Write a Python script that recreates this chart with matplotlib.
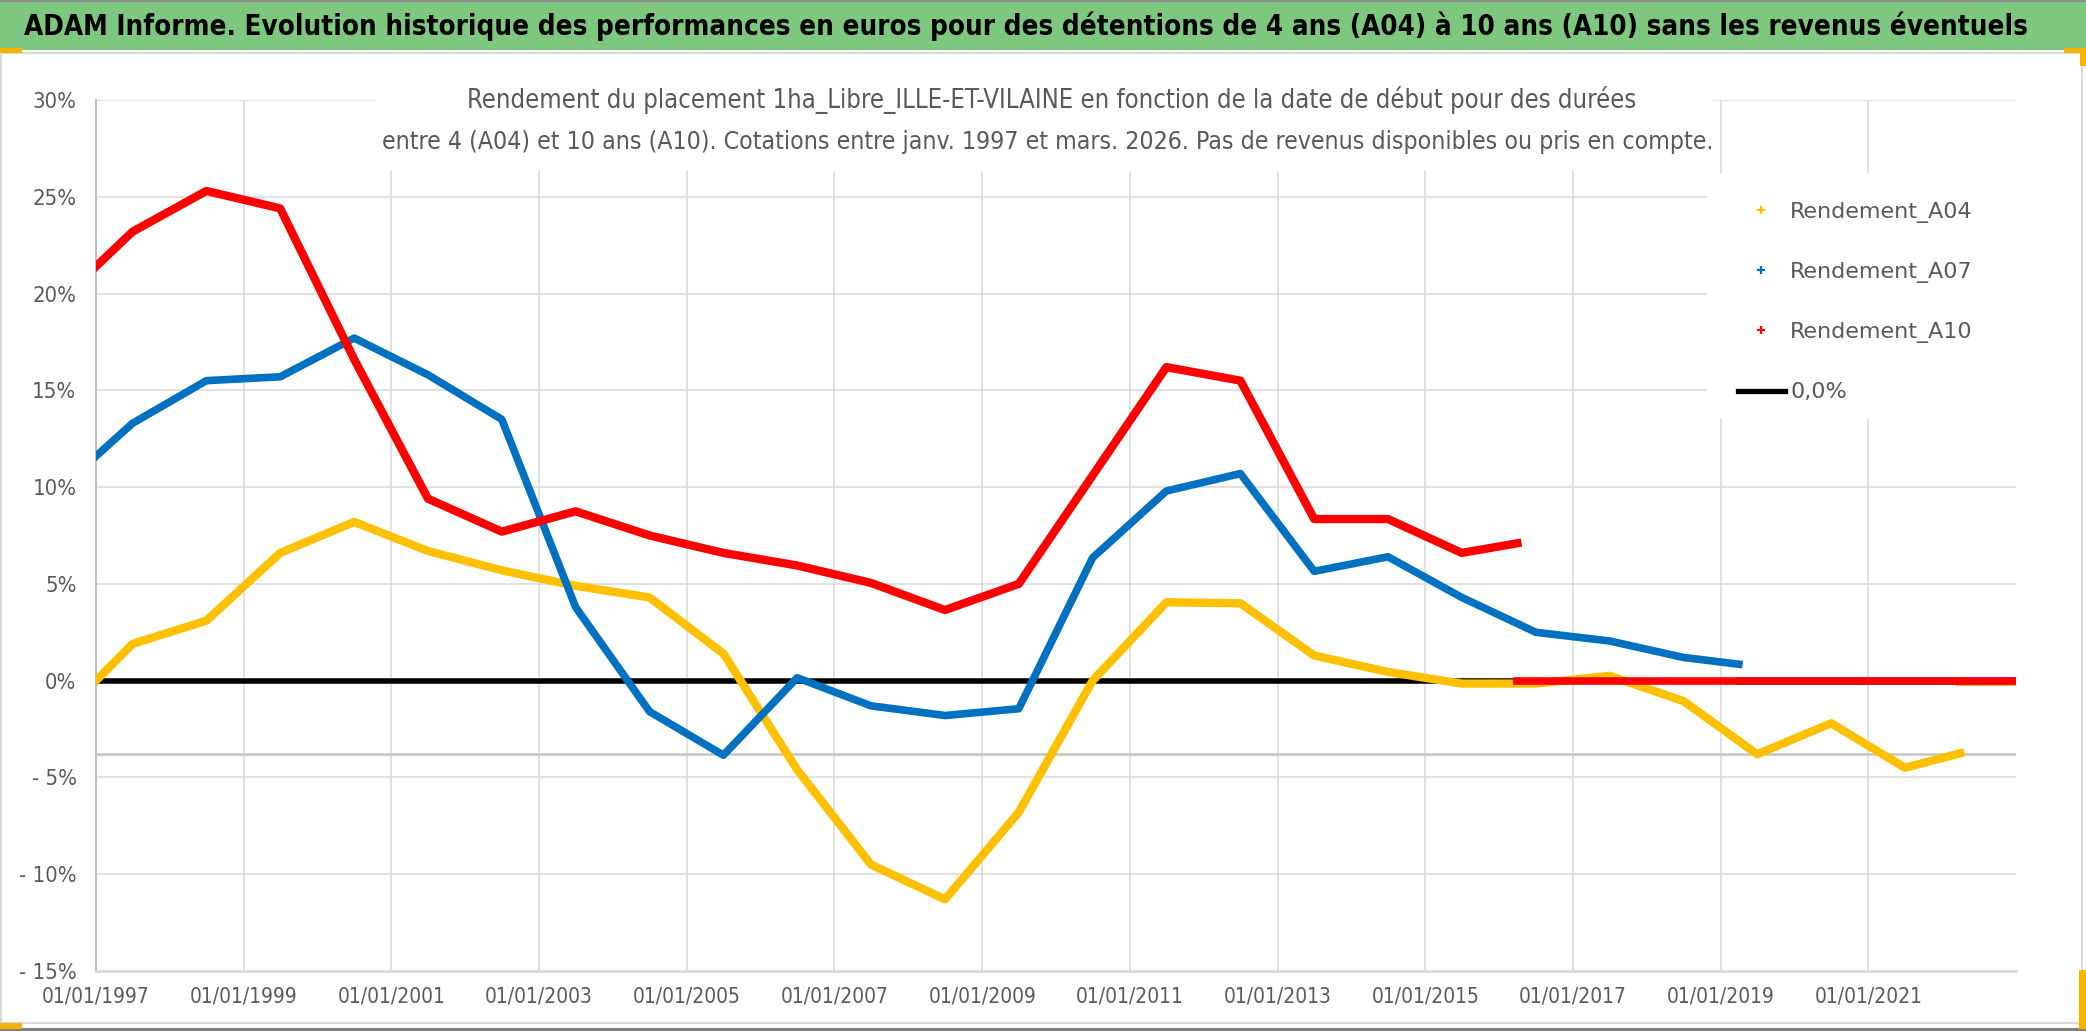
import os
import matplotlib
matplotlib.use('Agg')
import matplotlib.pyplot as plt
import matplotlib.dates as mdates
from matplotlib import font_manager as fm
from matplotlib.lines import Line2D
from matplotlib.patches import Rectangle
from matplotlib.ticker import FuncFormatter
import pandas as pd

# --- data (rendement in %) ---
a04_dates = ['1997-01-01', '1997-07-01', '1998-07-01', '1999-07-01', '2000-07-01',
             '2001-07-01', '2002-07-01', '2003-07-01', '2004-07-01', '2005-07-01',
             '2006-07-01', '2007-07-01', '2008-07-01', '2009-07-01', '2010-07-01',
             '2011-07-01', '2012-07-01', '2013-07-01', '2014-07-01', '2015-07-01',
             '2016-07-01', '2017-07-01', '2018-07-01', '2019-07-01', '2020-07-01',
             '2021-07-01', '2022-04-01']
a04_vals = [0.0, 1.9, 3.1, 6.6, 8.2, 6.7, 5.7, 4.9, 4.3, 1.4,
            -4.6, -9.5, -11.3, -6.8, 0.0, 4.05, 4.0, 1.3, 0.45, -0.15,
            -0.15, 0.25, -1.05, -3.8, -2.2, -4.5, -3.75]
a04_zero_dates = ['2022-04-01', '2023-01-01']

a07_dates = ['1997-01-01', '1997-07-01', '1998-07-01', '1999-07-01', '2000-07-01',
             '2001-07-01', '2002-07-01', '2003-07-01', '2004-07-01', '2005-07-01',
             '2006-07-01', '2007-07-01', '2008-07-01', '2009-07-01', '2010-07-01',
             '2011-07-01', '2012-07-01', '2013-07-01', '2014-07-01', '2015-07-01',
             '2016-07-01', '2017-07-01', '2018-07-01', '2019-04-01']
a07_vals = [11.6, 13.3, 15.5, 15.7, 17.7, 15.8, 13.5, 3.8, -1.6, -3.85,
            0.15, -1.3, -1.8, -1.45, 6.35, 9.8, 10.7, 5.65, 6.4, 4.3,
            2.5, 2.05, 1.2, 0.85]
a07_zero_dates = ['2019-04-01', '2023-01-01']

a10_dates = ['1997-01-01', '1997-07-01', '1998-07-01', '1999-07-01', '2000-07-01',
             '2001-07-01', '2002-07-01', '2003-07-01', '2004-07-01', '2005-07-01',
             '2006-07-01', '2007-07-01', '2008-07-01', '2009-07-01', '2010-07-01',
             '2011-07-01', '2012-07-01', '2013-07-01', '2014-07-01', '2015-07-01',
             '2016-04-01']
a10_vals = [21.4, 23.2, 25.3, 24.4, 16.6, 9.4, 7.7, 8.75, 7.5, 6.6,
            5.95, 5.05, 3.65, 5.0, 10.6, 16.2, 15.5, 8.35, 8.35, 6.6,
            7.1]
a10_zero_dates = ['2016-04-01', '2023-01-01']

zero_dates = ['1997-01-01', '2023-01-01']
zero_vals = [0.0, 0.0]
second_axis_level = -3.8

x_ticks = ['1997-01-01', '1999-01-01', '2001-01-01', '2003-01-01', '2005-01-01',
           '2007-01-01', '2009-01-01', '2011-01-01', '2013-01-01', '2015-01-01',
           '2017-01-01', '2019-01-01', '2021-01-01']
y_ticks = [-15, -10, -5, 0, 5, 10, 15, 20, 25, 30]

labels = ['Rendement_A04', 'Rendement_A07', 'Rendement_A10', '0,0%']
colors = ['#FFC000', '#0070C0', '#FF0000']

title = ("ADAM Informe. Evolution historique des performances en euros pour des "
         "détentions de 4 ans (A04) à 10 ans (A10) sans les revenus éventuels")
sub1 = ("Rendement du placement 1ha_Libre_ILLE-ET-VILAINE en fonction de la date "
        "de début pour des durées")
sub2 = ("entre 4 (A04) et 10 ans (A10). Cotations entre janv. 1997 et mars. 2026. "
        "Pas de revenus disponibles ou pris en compte.")

GREY = '#595959'


# the reference uses a narrow Calibri-like face: take a condensed font if one is installed
def find_font(bold):
    files = fm.findSystemFonts()
    for key in ['liberationsansnarrow', 'dejavusanscondensed', 'robotocondensed',
                'opensanscondensed', 'notosanscondensed']:
        for f in sorted(files):
            base = os.path.basename(f).lower().replace('-', '').replace('_', '')
            if not base.startswith(key):
                continue
            if 'italic' in base or 'oblique' in base:
                continue
            rest = base[len(key):]
            if bold and rest.startswith('bold'):
                return fm.FontProperties(fname=f)
            if not bold and (rest.startswith('.') or rest.startswith('regular')
                             or rest.startswith('book')):
                return fm.FontProperties(fname=f)
    return fm.FontProperties(family='DejaVu Sans', weight='bold' if bold else 'normal')


narrow = find_font(False)
narrow_bold = find_font(True)

W, H = 2086, 1031
fig = plt.figure(figsize=(W / 100, H / 100), dpi=100)
renderer = fig.canvas.get_renderer()


def fx(px):
    return px / W


def fy(py):
    return 1 - py / H


def frect(x0, y0, x1, y1, **kw):
    return Rectangle((fx(x0), fy(y1)), fx(x1) - fx(x0), (y1 - y0) / H,
                     transform=fig.transFigure, **kw)


def fit_width(txt, target_px):
    w = txt.get_window_extent(renderer).width
    txt.set_fontsize(txt.get_fontsize() * target_px / w)


# frame, title band, selection handles
fig.patches.append(frect(1, 53, 2082, 1023, fill=False, edgecolor='#d9d9d9', lw=1.5))
fig.patches.append(frect(0, 0, W, 50, facecolor='#7dc77e', edgecolor='none'))
fig.patches.append(frect(0, 0, W, 2, facecolor='#8c8c8c', edgecolor='none'))
fig.patches.append(frect(0, 1028, W, H, facecolor='#808080', edgecolor='none'))
for box in [(0, 48, 22, 53), (2064, 48, 2086, 53), (2080, 48, 2086, 66),
            (0, 1023, 22, 1029), (2079, 970, 2086, 1029)]:
    fig.patches.append(frect(*box, facecolor='#F4B400', edgecolor='none'))

t = fig.text(fx(24), fy(26), title, ha='left', va='center',
             fontproperties=narrow_bold, color='black')
t.set_fontsize(20)
fit_width(t, 2002)

ax = fig.add_axes([fx(96), fy(971), fx(2016) - fx(96), (971 - 100) / H])

ax.plot(pd.to_datetime(zero_dates), zero_vals, color='black', lw=4, zorder=2,
        solid_capstyle='butt')
ax.plot(pd.to_datetime(a04_dates), a04_vals, color=colors[0], lw=6, zorder=3)
ax.plot(pd.to_datetime(a04_zero_dates), [0, 0], color=colors[0], lw=6.5, zorder=3)
ax.plot(pd.to_datetime(a07_dates), a07_vals, color=colors[1], lw=5.5, zorder=4)
ax.plot(pd.to_datetime(a07_zero_dates), [0, 0], color=colors[1], lw=5.5, zorder=4)
ax.plot(pd.to_datetime(a10_dates), a10_vals, color=colors[2], lw=6, zorder=5)
ax.plot(pd.to_datetime(a10_zero_dates), [0, 0], color=colors[2], lw=5.5, zorder=5)
ax.axhline(second_axis_level, color='#c4c4c4', lw=1.8, zorder=1)

ax.set_xlim(pd.Timestamp('1997-01-01'), pd.Timestamp('2023-01-01'))
ax.set_ylim(-15, 30)
ax.set_xticks(pd.to_datetime(x_ticks))
ax.xaxis.set_major_formatter(mdates.DateFormatter('%d/%m/%Y'))
ax.set_yticks(y_ticks)
ax.yaxis.set_major_formatter(FuncFormatter(
    lambda v, p: f'{v:.0f}%' if v >= 0 else f'- {abs(v):.0f}%'))
ax.grid(True, color='#d9d9d9', lw=1.1)
ax.set_axisbelow(True)
for s in ['top', 'right']:
    ax.spines[s].set_visible(False)
ax.spines['left'].set_color('#bfbfbf')
ax.spines['left'].set_linewidth(1.5)
ax.spines['bottom'].set_color('#d9d9d9')
ax.spines['bottom'].set_linewidth(2)
ax.tick_params(length=0, labelcolor=GREY)

# size tick labels from the reference label widths (a bit larger: the reference face is taller)
probe = fig.text(0, 0, '01/01/1997', fontproperties=narrow)
probe.set_fontsize(15)
fit_width(probe, 108)
x_size = probe.get_fontsize()
x_h = probe.get_window_extent(renderer).height
probe.set_text('25%')
probe.set_fontsize(15)
fit_width(probe, 44)
y_size = probe.get_fontsize()
probe.remove()
ax.tick_params(axis='x', pad=max(1, (996 - 971 - x_h / 2) * 0.72), labelsize=x_size)
ax.tick_params(axis='y', pad=14, labelsize=y_size)
for lab in ax.get_xticklabels():
    lab.set_fontproperties(narrow)
    lab.set_fontsize(x_size)
for lab in ax.get_yticklabels():
    lab.set_fontproperties(narrow)
    lab.set_fontsize(y_size)

# white boxes behind subtitle and legend (they hide the gridlines)
ax.add_patch(frect(376, 60, 1712, 171, facecolor='white', edgecolor='none',
                   zorder=1, clip_on=False))
ax.add_patch(frect(1707, 173, 2030, 419, facecolor='white', edgecolor='none',
                   zorder=1, clip_on=False))

s1 = fig.text(fx(1052), fy(100), sub1, ha='center', va='center',
              color=GREY, fontproperties=narrow)
s1.set_fontsize(15)
fit_width(s1, 1175)
s2 = fig.text(fx(1048), fy(142), sub2, ha='center', va='center',
              color=GREY, fontproperties=narrow)
s2.set_fontsize(15)
fit_width(s2, 1337)

handles = [Line2D([], [], ls='none', marker='+', color=c, markersize=6, mew=1.6)
           for c in colors]
handles.append(Line2D([], [], color='black', lw=3.8))
leg = ax.legend(handles, labels, loc='upper left', bbox_to_anchor=(fx(1738), fy(202)),
                bbox_transform=fig.transFigure, frameon=False,
                prop={'family': 'DejaVu Sans', 'size': 16}, labelcolor=GREY,
                handlelength=2.1, handletextpad=0.25, labelspacing=1.76,
                borderpad=0, borderaxespad=0)
leg.set_zorder(6)

fig.savefig('out.png', dpi=100)
